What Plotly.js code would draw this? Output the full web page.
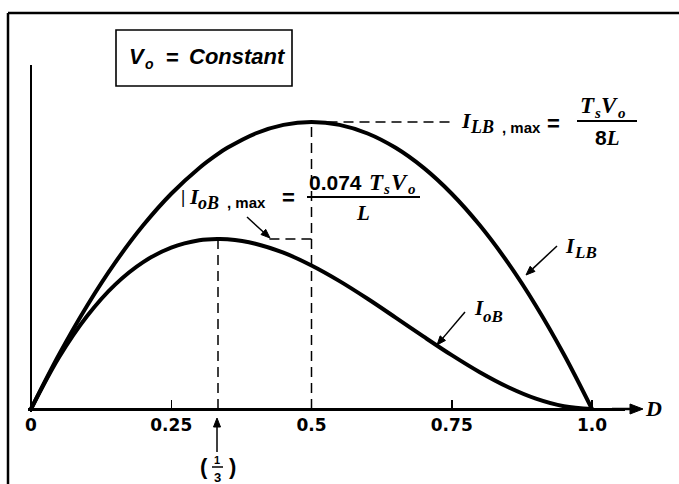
<!DOCTYPE html>
<html>
<head>
<meta charset="utf-8">
<script src="https://cdn.plot.ly/plotly-3.0.1.min.js"></script>
<style>
  html, body { margin: 0; padding: 0; background: #fff; }
  #chart { width: 679px; height: 484px; }
</style>
</head>
<body>
<div id="chart"></div>
<script>
// Boost converter at the edge of continuous conduction, Vo held constant.
// Currents are in units of Ts*Vo/L, plotted against the duty ratio D.
const dutyRatio = [0, 0.05, 0.10, 0.15, 0.20, 0.25, 0.30, 0.3333, 0.35, 0.40, 0.45, 0.50,
                   0.55, 0.60, 0.65, 0.70, 0.75, 0.80, 0.85, 0.90, 0.95, 1.00];
const inductorBoundary = [0, 0.02375, 0.045, 0.06375, 0.08, 0.09375, 0.105, 0.11111, 0.11375, 0.12, 0.12375, 0.125,
                          0.12375, 0.12, 0.11375, 0.105, 0.09375, 0.08, 0.06375, 0.045, 0.02375, 0];
const outputBoundary = [0, 0.02256, 0.0405, 0.05419, 0.064, 0.07031, 0.0735, 0.07407, 0.07394, 0.072, 0.06806, 0.0625,
                        0.05569, 0.048, 0.03981, 0.0315, 0.02344, 0.016, 0.00956, 0.0045, 0.00119, 0];
const tickValues = [0, 0.25, 0.5, 0.75, 1.0];
const tickLabels = ['0', '0.25', '0.5', '0.75', '1.0'];
// Maxima: I_oB at D = 1/3, I_LB at D = 0.5
const peakDuty = [1 / 3, 0.5];
const peakCurrent = [0.07407, 0.125];

// ---- page geometry (pixels) ----
const W = 679, H = 484;
const X0 = 31, Y0 = 409;          // origin
const PX_PER_D = 561;             // pixels per unit of D
const PX_PER_I = 2296;            // pixels per unit of current
const PAD = 3;
const RIGHT_END = 625, TOP_END = 65;
const mL = X0 - PAD, mR = W - RIGHT_END, mT = TOP_END, mB = H - (Y0 + PAD);
const plotW = W - mL - mR, plotH = H - mT - mB;

const px = X => (X - mL) / plotW;          // page x -> paper
const py = Y => (H - mB - Y) / plotH;      // page y -> paper

const SERIF = 'Liberation Serif, Times New Roman, serif';
const SANS = 'Liberation Sans, Arial, sans-serif';

const annotations = [];
function label(X, Y, text, size, family, xanchor) {
  annotations.push({
    xref: 'paper', yref: 'paper', x: px(X), y: py(Y), text: text,
    showarrow: false, xanchor: xanchor || 'center', yanchor: 'middle',
    font: { family: family, size: size, color: '#000' }
  });
}

const shapes = [];
function seg(x1, y1, x2, y2, width) {
  shapes.push({ type: 'line', xref: 'paper', yref: 'paper', x0: px(x1), y0: py(y1), x1: px(x2), y1: py(y2),
                line: { color: '#000', width: width } });
}
// shaft plus filled head, head tip at (hx, hy)
function arrow(hx, hy, tx, ty, width, len, half) {
  const dx = hx - tx, dy = hy - ty, d = Math.hypot(dx, dy);
  const ux = dx / d, uy = dy / d;
  const bx = hx - ux * len, by = hy - uy * len;
  const nx = -uy * half, ny = ux * half;
  seg(tx, ty, bx, by, width);
  const pts = [[hx, hy], [bx + nx, by + ny], [bx - nx, by - ny]];
  shapes.push({
    type: 'path', xref: 'paper', yref: 'paper',
    path: 'M' + pts.map(p => px(p[0]) + ',' + py(p[1])).join(' L') + ' Z',
    fillcolor: '#000', line: { color: '#000', width: 1 }
  });
}

// frame edges
seg(8, 13, W, 13, 2.5);
seg(8, 13, 8, H, 2.5);

// "Vo = Constant" box
shapes.push({ type: 'rect', xref: 'paper', yref: 'paper', x0: px(116), y0: py(30), x1: px(292), y1: py(86),
              line: { color: '#000', width: 1.6 } });
label(127, 56, '<b><i>V</i></b>', 22, SANS, 'left');
label(143, 64, '<b><i>o</i></b>', 14, SANS, 'left');
label(172, 57, '<b>=</b>', 22, SANS);
label(187, 56, '<b><i>Constant</i></b>', 22, SANS, 'left');

// I_LB,max = TsVo / 8L
label(459, 120, '<b><i>I</i></b>', 22, SERIF, 'left');
label(468, 127, '<b><i>LB</i></b>', 18, SERIF, 'left');
label(500, 127, '<b>, max</b>', 15, SANS, 'left');
label(553, 123, '<b>=</b>', 22, SANS);
label(578, 106, '<b><i>T</i></b>', 23, SERIF, 'left');
label(592, 113, '<b><i>s</i></b>', 15, SERIF, 'left');
label(599, 106, '<b><i>V</i></b>', 23, SERIF, 'left');
label(616, 113, '<b><i>o</i></b>', 15, SERIF, 'left');
seg(577, 121, 637, 121, 2);
label(607, 138, '<b><span style="font-family:Liberation Sans">8</span><i>L</i></b>', 21, SERIF);

// |I_oB,max = 0.074 TsVo / L
label(183, 196, '<b>|</b>', 19, SERIF);
label(187, 196, '<b><i>I</i></b>', 22, SERIF, 'left');
label(196, 203, '<b><i>oB</i></b>', 18, SERIF, 'left');
label(225, 202, '<b>, max</b>', 15, SANS, 'left');
label(288, 198, '<b>=</b>', 22, SANS);
label(307, 182, '<b>0.074</b>', 21, SANS, 'left');
label(367, 182, '<b><i>T</i></b>', 23, SERIF, 'left');
label(381, 189, '<b><i>s</i></b>', 15, SERIF, 'left');
label(389, 182, '<b><i>V</i></b>', 23, SERIF, 'left');
label(406, 189, '<b><i>o</i></b>', 15, SERIF, 'left');
seg(307, 197, 420, 197, 2);
label(363, 213, '<b><i>L</i></b>', 21, SERIF);
arrow(270, 238, 247, 217, 1.5, 9, 3.5);

// curve labels
label(563, 246, '<b><i>I</i></b>', 21, SERIF, 'left');
label(572, 253, '<b><i>LB</i></b>', 17, SERIF, 'left');
arrow(526, 275, 557, 246, 1.5, 9, 3.5);
label(472, 308, '<b><i>I</i></b>', 21, SERIF, 'left');
label(481, 316, '<b><i>oB</i></b>', 17, SERIF, 'left');
arrow(437, 345, 465, 312, 1.5, 9, 3.5);

// (1/3) marker under the axis
arrow(217, 418, 217, 452, 1.5, 9, 3.5);
label(204, 467, '<b>(</b>', 22, SANS);
label(232, 467, '<b>)</b>', 22, SANS);
label(217, 460, '<b>1</b>', 11, SANS);
seg(212, 467, 223, 467, 1.5);
label(217, 477, '<b>3</b>', 13, SANS);

// axis arrow and D label
arrow(643, Y0, 612, Y0, 2.5, 13, 5);
label(653, 408, '<b><i>D</i></b>', 22, SERIF);

const curveLine = { color: '#000', width: 4, shape: 'spline', smoothing: 1 };
const guide = { color: '#000', width: 1.5, dash: '10px,6px' };

const traces = [
  { x: dutyRatio, y: inductorBoundary, mode: 'lines', line: curveLine, name: 'I_LB' },
  { x: dutyRatio, y: outputBoundary, mode: 'lines', line: curveLine, name: 'I_oB' },
  // verticals from each maximum down to the D axis
  { x: [peakDuty[0], peakDuty[0]], y: [0, peakCurrent[0]], mode: 'lines', line: guide },
  { x: [peakDuty[1], peakDuty[1]], y: [0, peakCurrent[1]], mode: 'lines', line: guide },
  // horizontals leading to the maximum labels
  { x: [peakDuty[1], 0.747], y: [peakCurrent[1], peakCurrent[1]], mode: 'lines', line: guide },
  { x: [0.425, peakDuty[1]], y: [peakCurrent[0], peakCurrent[0]], mode: 'lines', line: guide }
];

const layout = {
  width: W, height: H,
  margin: { l: mL, r: mR, t: mT, b: mB, pad: 0 },
  paper_bgcolor: '#fff', plot_bgcolor: '#fff',
  showlegend: false,
  xaxis: {
    range: [-PAD / PX_PER_D, (RIGHT_END - X0) / PX_PER_D],
    anchor: 'free', position: PAD / plotH,
    showgrid: false, zeroline: false,
    showline: true, linecolor: '#000', linewidth: 2.5,
    ticks: 'inside', ticklen: 8, tickwidth: 1.5, tickcolor: '#000',
    tickvals: tickValues, ticktext: tickLabels,
    tickfont: { family: 'DejaVu Sans, sans-serif', size: 17, color: '#000', weight: 'bold' },
    fixedrange: true
  },
  yaxis: {
    range: [-PAD / PX_PER_I, (Y0 - TOP_END) / PX_PER_I],
    anchor: 'free', position: PAD / plotW,
    showgrid: false, zeroline: false,
    showline: true, linecolor: '#000', linewidth: 2,
    ticks: '', showticklabels: false,
    fixedrange: true
  },
  shapes: shapes,
  annotations: annotations
};

Plotly.newPlot('chart', traces, layout, { staticPlot: true, displayModeBar: false });
</script>
</body>
</html>
